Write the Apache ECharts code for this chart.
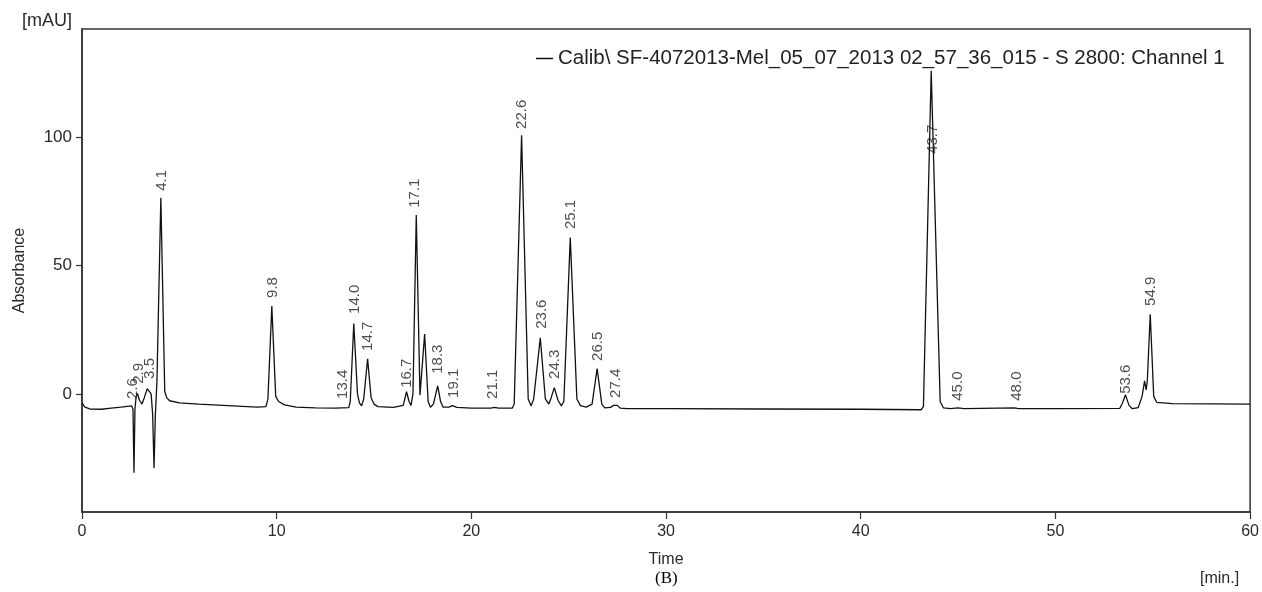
<!DOCTYPE html>
<html>
<head>
<meta charset="utf-8">
<script src="https://cdn.jsdelivr.net/npm/echarts@6/dist/echarts.min.js"></script>
<style>html,body{margin:0;padding:0;background:#fff}#c{width:1262px;height:592px}</style>
</head>
<body>
<div id="c"></div>
<script>
// Chromatogram trace: time (min) and absorbance (mAU)
const traceTimes = [0,0.15,0.4,1,1.5,2,2.55,2.62,2.67,2.72,2.78,2.85,2.95,3.08,3.2,3.35,3.45,3.55,3.63,3.7,3.77,3.85,4.05,4.25,4.35,4.5,5,6,7,8,9,9.45,9.55,9.75,9.95,10.1,10.4,11,12,13,13.7,13.78,13.96,14.15,14.25,14.36,14.47,14.67,14.85,15.0,15.2,16,16.5,16.67,16.8,16.9,17.0,17.17,17.36,17.42,17.6,17.78,17.9,18.05,18.27,18.42,18.55,18.85,19.03,19.25,20,21,21.2,21.4,22.1,22.2,22.58,22.92,23.07,23.2,23.54,23.8,23.98,24.1,24.26,24.45,24.62,24.75,25.08,25.42,25.6,25.9,26.2,26.46,26.7,26.85,27.15,27.3,27.4,27.5,27.65,28,30,35,40,43.1,43.22,43.62,44.08,44.25,44.6,45,45.3,47.9,48.1,50,53.3,53.45,53.6,53.78,53.95,54.25,54.45,54.58,54.66,54.72,54.87,55.05,55.2,56,58,60];
const traceValues = [-3.5,-5.2,-5.9,-6,-5.6,-5.2,-4.7,-6,-30.7,-6,-1,0.2,-2.5,-4,-1.5,2,2.7,0,-8,-29,-8,5,76.3,1,-1.5,-2.7,-3.5,-4,-4.4,-4.8,-5.2,-5,-2,34.2,-1,-3,-4.3,-5.2,-5.5,-5.6,-5.4,-3,27.4,0,-3.5,-4.7,-2,13.6,-1.5,-4,-5,-5.3,-4.5,0.8,-3,-4.5,0,69.6,-0.5,0,23.3,-3,-5.2,-4,3.1,-3,-5.2,-5.2,-4.6,-5.3,-5.6,-5.6,-5.3,-5.6,-5.6,-4,100.6,-2,-4.7,-2,21.8,-2,-4,-1.5,2.4,-2.5,-4.7,-3,60.8,-2,-4.6,-5.2,-4,9.8,-4,-5.5,-5.3,-4.5,-4.9,-4.5,-5.6,-5.8,-5.8,-5.9,-6,-6.2,-5,125.7,-3,-5.5,-5.8,-5.5,-5.8,-5.5,-5.8,-5.8,-5.7,-3.5,-0.4,-4.5,-5.8,-5.4,-1,5,1.5,5,31,-1,-3.3,-3.8,-3.9,-4.0];

// Peak annotations: retention time and the height the label sits on
const peakTimes = [2.6,2.9,3.5,4.1,9.8,13.4,14.0,14.7,16.7,17.1,18.3,19.1,21.1,22.6,23.6,24.3,25.1,26.5,27.4,43.7,45.0,48.0,53.6,54.9];
const peakHeights = [-5.1,0.8,2.7,75.9,34.2,-5.1,28,13.6,-0.8,69.3,4.7,-4.7,-5.1,100,22.2,2.7,61,9.7,-4.7,90.3,-5.8,-5.8,-3.1,31.1];

const xTicks = [0,10,20,30,40,50,60];
const yTicks = [0,50,100];
const seriesName = 'Calib\\ SF-4072013-Mel_05_07_2013 02_57_36_015 - S 2800: Channel 1';

const chart = echarts.init(document.getElementById('c'));
const txt = '#2a2a2a';
const font = 'Liberation Sans';
chart.setOption({
  animation: false,
  backgroundColor: '#fff',
  grid: {left: 82, right: 10, top: 29, bottom: 80, show: true, borderColor: '#333', borderWidth: 1.5, backgroundColor: 'transparent'},
  legend: {
    data: [seriesName], left: 536, top: 48, padding: 0, icon: 'rect', itemWidth: 17, itemHeight: 1.5, itemGap: 0,
    textStyle: {fontFamily: font, fontSize: 20.5, color: '#222'}
  },
  xAxis: {
    type: 'value', min: 0, max: 60, interval: 10,
    name: 'Time', nameLocation: 'middle', nameGap: 40,
    nameTextStyle: {fontFamily: font, fontSize: 16, color: txt},
    axisLine: {show: true, onZero: false, lineStyle: {color: '#333', width: 1.5}},
    axisTick: {show: true, inside: false, length: 7, lineStyle: {color: '#333', width: 1.2}},
    axisLabel: {fontFamily: font, fontSize: 16, color: txt, margin: 12, formatter: v => xTicks.includes(v) ? String(v) : ''},
    splitLine: {show: false}
  },
  yAxis: {
    type: 'value', min: -46, max: 142,
    name: 'Absorbance', nameLocation: 'middle', nameGap: 54,
    nameTextStyle: {fontFamily: font, fontSize: 16, color: txt},
    axisLine: {show: true, onZero: false, lineStyle: {color: '#333', width: 1.5}},
    axisTick: {show: true, length: 6, customValues: yTicks, lineStyle: {color: '#333', width: 1.2}},
    axisLabel: {fontFamily: font, fontSize: 17, color: txt, margin: 10, customValues: yTicks},
    splitLine: {show: false}
  },
  series: [
    {
      name: seriesName, type: 'line', symbol: 'none', smooth: false,
      color: '#111', lineStyle: {color: '#111', width: 1.3},
      data: traceTimes.map((t, i) => [t, traceValues[i]]),
      z: 3
    },
    {
      type: 'scatter', symbolSize: 0, silent: true,
      data: peakTimes.map((t, i) => [t, peakHeights[i]]),
      label: {
        show: true, position: 'top', distance: 8, rotate: 90, align: 'left', verticalAlign: 'middle',
        fontFamily: font, fontSize: 15, color: '#222',
        formatter: p => p.value[0].toFixed(1)
      },
      z: 4
    }
  ],
  graphic: [
    {type: 'text', left: 22, top: 12, style: {text: '[mAU]', fontFamily: font, fontSize: 18, fill: txt}},
    {type: 'text', left: 1200, top: 571, style: {text: '[min.]', fontFamily: font, fontSize: 16, fill: txt}},
    {type: 'text', left: 655, top: 570, style: {text: '(B)', fontFamily: 'Liberation Serif', fontSize: 17, fill: '#000'}}
  ]
});
</script>
</body>
</html>
